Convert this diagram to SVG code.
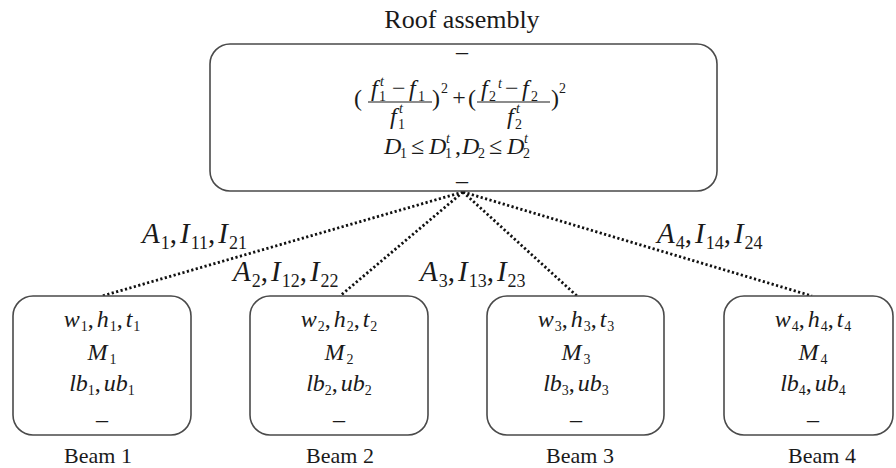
<svg xmlns="http://www.w3.org/2000/svg" width="896" height="468" viewBox="0 0 896 468">
<style>
text{font-family:"Liberation Serif","Times New Roman",serif;fill:#1a1a1a}
.i{font-style:italic}
.f{font-size:24px}
.s{font-size:14px}
.lbl{font-size:29px}
.ls{font-size:18px}
.box{fill:#fff;stroke:#4a4a4a;stroke-width:1.6}
.con{fill:none;stroke:#111;stroke-width:2.8;stroke-dasharray:2.2 2.4}
.cap{font-size:22px}
</style>
<rect width="896" height="468" fill="#fff"/>
<g id="connectors">
<line class="con" x1="463" y1="192" x2="102" y2="296"/>
<line class="con" x1="463" y1="192" x2="340" y2="296"/>
<line class="con" x1="463" y1="192" x2="577" y2="296"/>
<line class="con" x1="463" y1="192" x2="812" y2="296"/>
<text class="lbl" x="142" y="243"><tspan class="i">A</tspan><tspan class="ls" dy="6" dx="1">1</tspan><tspan dy="-6">,</tspan><tspan class="i" dx="3">I</tspan><tspan class="ls" dy="6" dx="1">11</tspan><tspan dy="-6">,</tspan><tspan class="i" dx="3">I</tspan><tspan class="ls" dy="6" dx="1">21</tspan></text>
<text class="lbl" x="233" y="281"><tspan class="i">A</tspan><tspan class="ls" dy="6" dx="1">2</tspan><tspan dy="-6">,</tspan><tspan class="i" dx="3">I</tspan><tspan class="ls" dy="6" dx="1">12</tspan><tspan dy="-6">,</tspan><tspan class="i" dx="3">I</tspan><tspan class="ls" dy="6" dx="1">22</tspan></text>
<text class="lbl" x="420" y="281"><tspan class="i">A</tspan><tspan class="ls" dy="6" dx="1">3</tspan><tspan dy="-6">,</tspan><tspan class="i" dx="3">I</tspan><tspan class="ls" dy="6" dx="1">13</tspan><tspan dy="-6">,</tspan><tspan class="i" dx="3">I</tspan><tspan class="ls" dy="6" dx="1">23</tspan></text>
<text class="lbl" x="657" y="243"><tspan class="i">A</tspan><tspan class="ls" dy="6" dx="1">4</tspan><tspan dy="-6">,</tspan><tspan class="i" dx="3">I</tspan><tspan class="ls" dy="6" dx="1">14</tspan><tspan dy="-6">,</tspan><tspan class="i" dx="3">I</tspan><tspan class="ls" dy="6" dx="1">24</tspan></text>
</g>
<g id="roof">
<text x="462" y="28" text-anchor="middle" style="font-size:26px">Roof assembly</text>
<rect class="box" x="210" y="44" width="507" height="147" rx="20"/>
<text class="f" x="462" y="59" text-anchor="middle">–</text>
<text class="f" x="462" y="188" text-anchor="middle">–</text>
<g>
<text class="f" x="354" y="106">(</text>
<text class="f i" x="371" y="96">f</text><text class="s" x="379" y="101">1</text><text class="s i" x="380" y="86">t</text>
<text class="f" x="392" y="96">−</text>
<text class="f i" x="409" y="96">f</text><text class="s" x="418" y="101">1</text>
<line x1="368" y1="102" x2="432" y2="102" stroke="#1a1a1a" stroke-width="1.1"/>
<text class="f i" x="390" y="124">f</text><text class="s" x="398" y="129">1</text><text class="s i" x="399" y="113">t</text>
<text class="f" x="432" y="106">)</text>
<text class="s" x="441" y="93">2</text>
<text class="f" x="459" y="105" text-anchor="middle">+</text>
<text class="f" x="468" y="106">(</text>
<text class="f i" x="481" y="96">f</text><text class="s" x="489" y="101">2</text><text class="s i" x="498" y="88">t</text>
<text class="f" x="505" y="96">−</text>
<text class="f i" x="522" y="96">f</text><text class="s" x="531" y="101">2</text>
<line x1="477" y1="102" x2="550" y2="102" stroke="#1a1a1a" stroke-width="1.1"/>
<text class="f i" x="507" y="124">f</text><text class="s" x="515" y="129">2</text><text class="s i" x="516" y="113">t</text>
<text class="f" x="551" y="106">)</text>
<text class="s" x="559" y="93">2</text>
</g>
<g>
<text class="f i" x="384" y="154">D</text><text class="s" x="400" y="158">1</text>
<text class="f" x="411" y="154">≤</text>
<text class="f i" x="429" y="154">D</text><text class="s" x="445" y="158">1</text><text class="s i" x="446" y="143">t</text>
<text class="f" x="455" y="154">,</text>
<text class="f i" x="462" y="154">D</text><text class="s" x="478" y="158">2</text>
<text class="f" x="489" y="154">≤</text>
<text class="f i" x="507" y="154">D</text><text class="s" x="523" y="158">2</text><text class="s i" x="524" y="143">t</text>
</g>
</g>
<g id="beam1">
<rect class="box" x="13" y="296" width="178" height="139" rx="20"/>
<text class="f" x="102" y="327" text-anchor="middle"><tspan class="i">w</tspan><tspan class="s" dy="4" dx="1">1</tspan><tspan dy="-4">,</tspan><tspan class="i" dx="3">h</tspan><tspan class="s" dy="4" dx="1">1</tspan><tspan dy="-4">,</tspan><tspan class="i" dx="3">t</tspan><tspan class="s" dy="4" dx="1">1</tspan></text>
<text class="f" x="102" y="360" text-anchor="middle"><tspan class="i">M</tspan><tspan class="s" dy="4" dx="2">1</tspan></text>
<text class="f" x="102" y="391" text-anchor="middle"><tspan class="i">lb</tspan><tspan class="s" dy="4">1</tspan><tspan dy="-4">,</tspan><tspan class="i" dx="3">ub</tspan><tspan class="s" dy="4">1</tspan></text>
<text class="f" x="102" y="427" text-anchor="middle">–</text>
<text class="cap" x="98" y="463" text-anchor="middle">Beam 1</text>
</g>
<g id="beam2">
<rect class="box" x="250" y="296" width="178" height="139" rx="20"/>
<text class="f" x="339" y="327" text-anchor="middle"><tspan class="i">w</tspan><tspan class="s" dy="4" dx="1">2</tspan><tspan dy="-4">,</tspan><tspan class="i" dx="3">h</tspan><tspan class="s" dy="4" dx="1">2</tspan><tspan dy="-4">,</tspan><tspan class="i" dx="3">t</tspan><tspan class="s" dy="4" dx="1">2</tspan></text>
<text class="f" x="339" y="360" text-anchor="middle"><tspan class="i">M</tspan><tspan class="s" dy="4" dx="2">2</tspan></text>
<text class="f" x="339" y="391" text-anchor="middle"><tspan class="i">lb</tspan><tspan class="s" dy="4">2</tspan><tspan dy="-4">,</tspan><tspan class="i" dx="3">ub</tspan><tspan class="s" dy="4">2</tspan></text>
<text class="f" x="339" y="427" text-anchor="middle">–</text>
<text class="cap" x="340" y="463" text-anchor="middle">Beam 2</text>
</g>
<g id="beam3">
<rect class="box" x="487" y="296" width="177" height="139" rx="20"/>
<text class="f" x="576" y="327" text-anchor="middle"><tspan class="i">w</tspan><tspan class="s" dy="4" dx="1">3</tspan><tspan dy="-4">,</tspan><tspan class="i" dx="3">h</tspan><tspan class="s" dy="4" dx="1">3</tspan><tspan dy="-4">,</tspan><tspan class="i" dx="3">t</tspan><tspan class="s" dy="4" dx="1">3</tspan></text>
<text class="f" x="576" y="360" text-anchor="middle"><tspan class="i">M</tspan><tspan class="s" dy="4" dx="2">3</tspan></text>
<text class="f" x="576" y="391" text-anchor="middle"><tspan class="i">lb</tspan><tspan class="s" dy="4">3</tspan><tspan dy="-4">,</tspan><tspan class="i" dx="3">ub</tspan><tspan class="s" dy="4">3</tspan></text>
<text class="f" x="576" y="427" text-anchor="middle">–</text>
<text class="cap" x="580" y="463" text-anchor="middle">Beam 3</text>
</g>
<g id="beam4">
<rect class="box" x="724" y="296" width="169" height="139" rx="20"/>
<text class="f" x="813" y="327" text-anchor="middle"><tspan class="i">w</tspan><tspan class="s" dy="4" dx="1">4</tspan><tspan dy="-4">,</tspan><tspan class="i" dx="3">h</tspan><tspan class="s" dy="4" dx="1">4</tspan><tspan dy="-4">,</tspan><tspan class="i" dx="3">t</tspan><tspan class="s" dy="4" dx="1">4</tspan></text>
<text class="f" x="813" y="360" text-anchor="middle"><tspan class="i">M</tspan><tspan class="s" dy="4" dx="2">4</tspan></text>
<text class="f" x="813" y="391" text-anchor="middle"><tspan class="i">lb</tspan><tspan class="s" dy="4">4</tspan><tspan dy="-4">,</tspan><tspan class="i" dx="3">ub</tspan><tspan class="s" dy="4">4</tspan></text>
<text class="f" x="813" y="427" text-anchor="middle">–</text>
<text class="cap" x="822" y="463" text-anchor="middle">Beam 4</text>
</g>
</svg>
